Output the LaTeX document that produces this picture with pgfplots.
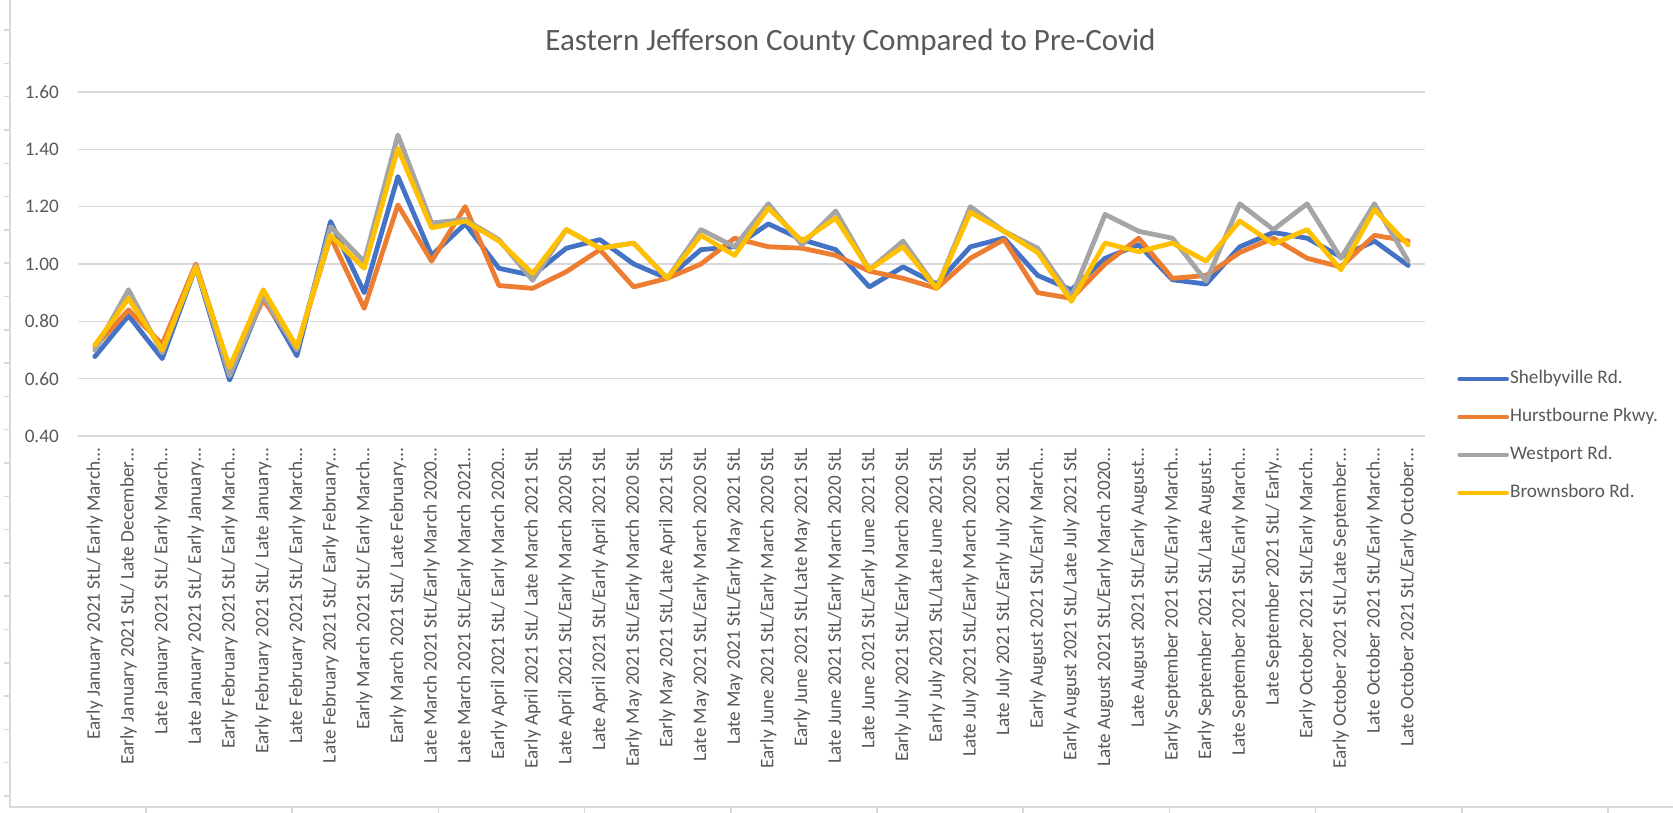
\documentclass[border=0pt]{standalone}
\usepackage{fontspec}
\setmainfont{Carlito}
\usepackage{pgfplots}
\usepackage{pgfplotstable}
\pgfplotsset{compat=1.18}
\definecolor{cS}{HTML}{4472C4}
\definecolor{cH}{HTML}{ED7D31}
\definecolor{cW}{HTML}{A5A5A5}
\definecolor{cB}{HTML}{FFC000}
\definecolor{txt}{HTML}{595959}
\definecolor{grd}{HTML}{D9D9D9}

\pgfplotstableread{
x S H W B
0 0.677 0.710 0.700 0.717
1 0.820 0.840 0.910 0.880
2 0.670 0.720 0.690 0.700
3 0.990 1.000 0.995 0.990
4 0.595 0.635 0.610 0.640
5 0.886 0.875 0.890 0.910
6 0.680 0.710 0.700 0.710
7 1.148 1.095 1.130 1.100
8 0.900 0.845 1.008 0.985
9 1.305 1.206 1.450 1.403
10 1.030 1.010 1.143 1.126
11 1.140 1.200 1.155 1.150
12 0.985 0.925 1.085 1.080
13 0.960 0.915 0.943 0.967
14 1.055 0.973 1.120 1.120
15 1.085 1.050 1.055 1.055
16 1.000 0.920 1.073 1.073
17 0.950 0.950 0.950 0.950
18 1.050 1.000 1.120 1.100
19 1.060 1.090 1.060 1.030
20 1.140 1.060 1.210 1.195
21 1.085 1.055 1.067 1.080
22 1.050 1.030 1.185 1.160
23 0.920 0.975 0.980 0.980
24 0.990 0.950 1.080 1.060
25 0.930 0.915 0.915 0.915
26 1.060 1.020 1.200 1.180
27 1.090 1.085 1.114 1.114
28 0.960 0.900 1.055 1.040
29 0.910 0.880 0.885 0.870
30 1.020 1.000 1.173 1.073
31 1.067 1.090 1.114 1.043
32 0.945 0.950 1.090 1.073
33 0.930 0.960 0.940 1.010
34 1.060 1.040 1.210 1.150
35 1.110 1.090 1.120 1.070
36 1.090 1.020 1.210 1.120
37 1.025 0.990 1.020 0.980
38 1.080 1.100 1.210 1.190
39 0.995 1.080 1.010 1.067
}\data

\begin{document}
\begin{tikzpicture}
\useasboundingbox (0,0) rectangle (1673pt,813pt);
\fill[white] (0,0) rectangle (1673pt,813pt);
\draw[grd, line width=1.5pt] (10pt,813pt) -- (10pt,6pt) -- (1673pt,6pt);
\foreach \k in {0,...,23} {\pgfmathsetmacro\yy{17+33.3*\k}\draw[grd, line width=1.5pt] (4pt,\yy pt) -- (10pt,\yy pt);}
\foreach \k in {0,...,10} {\pgfmathsetmacro\xx{146+146.2*\k}\draw[grd, line width=1.5pt] (\xx pt,0pt) -- (\xx pt,6pt);}
\begin{axis}[
  at={(78pt,377pt)}, anchor=south west,
  width=1347pt, height=344pt, scale only axis,
  xmin=-0.5, xmax=39.5, ymin=0.4, ymax=1.6,
  ytick={0.4,0.6,0.8,1.0,1.2,1.4,1.6},
  xtick={0,...,39},
  xticklabels={
    {Early January 2021 StL/ Early March…},
    {Early January 2021 StL/ Late December…},
    {Late January 2021 StL/ Early March…},
    {Late January 2021 StL/ Early January…},
    {Early February 2021 StL/ Early March…},
    {Early February 2021 StL/ Late January…},
    {Late February 2021 StL/ Early March…},
    {Late February 2021 StL/ Early February…},
    {Early March 2021 StL/ Early March…},
    {Early March 2021 StL/ Late February…},
    {Late March 2021 StL/Early March 2020…},
    {Late March 2021 StL/Early March 2021…},
    {Early April 2021 StL/ Early March 2020…},
    {Early April 2021 StL/ Late March 2021 StL},
    {Late April 2021 StL/Early March 2020 StL},
    {Late April 2021 StL/Early April 2021 StL},
    {Early May 2021 StL/Early March 2020 StL},
    {Early May 2021 StL/Late April 2021 StL},
    {Late May 2021 StL/Early March 2020 StL},
    {Late May 2021 StL/Early May 2021 StL},
    {Early June 2021 StL/Early March 2020 StL},
    {Early June 2021 StL/Late May 2021 StL},
    {Late June 2021 StL/Early March 2020 StL},
    {Late June 2021 StL/Early June 2021 StL},
    {Early July 2021 StL/Early March 2020 StL},
    {Early July 2021 StL/Late June 2021 StL},
    {Late July 2021 StL/Early March 2020 StL},
    {Late July 2021 StL/Early July 2021 StL},
    {Early August 2021 StL/Early March…},
    {Early August 2021 StL/Late July 2021 StL},
    {Late August 2021 StL/Early March 2020…},
    {Late August 2021 StL/Early August…},
    {Early September 2021 StL/Early March…},
    {Early September 2021 StL/Late August…},
    {Late September 2021 StL/Early March…},
    {Late September 2021 StL/ Early…},
    {Early October 2021 StL/Early March…},
    {Early October 2021 StL/Late September…},
    {Late October 2021 StL/Early March…},
    {Late October 2021 StL/Early October…}},
  axis line style={draw=none},
  tick style={draw=none},
  ymajorgrids,
  major grid style={grd, line width=1.5pt},
  /pgf/number format/assume math mode=true,
  yticklabel style={/pgf/number format/.cd, fixed, fixed zerofill, precision=2, /tikz/.cd,
    font=\fontsize{19.2}{23}\selectfont, text=txt, inner sep=0pt, xshift=-19pt},
  xticklabel style={yshift=-12pt, rotate=90, anchor=east, inner sep=0pt,
    font=\fontsize{19.2}{23}\selectfont, text=txt},
  title={Eastern Jefferson County Compared to Pre-Covid},
  title style={at={(0.5735,1.128)}, anchor=center, font=\fontsize{31}{37}\selectfont, text=txt},
  legend style={at={(1.0238,0)}, anchor=west, draw=none, fill=none, inner sep=0pt,
    font=\fontsize{19.2}{23}\selectfont, text=txt, row sep=20pt,
    nodes={inner xsep=1pt, inner ysep=0pt, text height=14pt, text depth=4pt}},
  legend cell align=left,
  legend image code/.code={\draw[#1, line width=4.8pt, line cap=round] (0pt,0pt) -- (47pt,0pt);},
  every axis plot/.append style={line width=4.8pt, line join=round, line cap=round, no markers},
]
\addplot[cS] table[x=x, y=S] {\data};
\addplot[cH] table[x=x, y=H] {\data};
\addplot[cW] table[x=x, y=W] {\data};
\addplot[cB] table[x=x, y=B] {\data};
\legend{Shelbyville Rd., Hurstbourne Pkwy., Westport Rd., Brownsboro Rd.}
\end{axis}
\end{tikzpicture}
\end{document}
